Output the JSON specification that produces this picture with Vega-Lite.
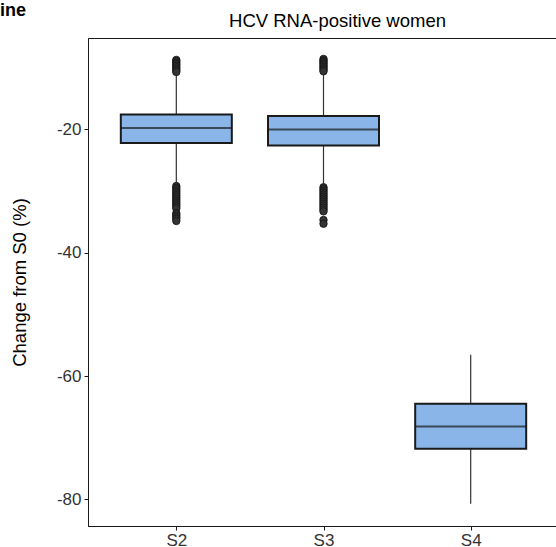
{
  "$schema": "https://vega.github.io/schema/vega-lite/v6.json",
  "width": 471,
  "height": 488,
  "autosize": {"type": "none"},
  "padding": {"left": 88, "top": 38, "right": 0, "bottom": 30},
  "background": "white",
  "title": {"text": "ine", "anchor": "start", "frame": "group", "dx": -88, "dy": 13, "fontSize": 18, "fontWeight": "bold", "color": "black", "font": "Liberation Sans"},
  "config": {
    "font": "Liberation Sans",
    "view": {"stroke": "#1a1a1a", "strokeWidth": 1},
    "axis": {"grid": false, "domainColor": "#1a1a1a", "tickColor": "#1a1a1a", "labelColor": "#333333", "labelFontSize": 17, "titleFontSize": 17, "titleFontWeight": "normal", "titleColor": "black", "tickSize": 4, "labelPadding": 3}
  },
  "datasets": {
    "boxes": [
      {"group": "S2", "lower": -29.1, "q1": -22.22, "median": -19.79, "q3": -17.62, "upper": -10.75},
      {"group": "S3", "lower": -29.1, "q1": -22.64, "median": -20.05, "q3": -17.84, "upper": -10.7},
      {"group": "S4", "lower": -80.7, "q1": -71.78, "median": -68.16, "q3": -64.48, "upper": -56.53}
    ],
    "outliers": [
      {"group": "S2", "value": -8.75}, {"group": "S2", "value": -8.95}, {"group": "S2", "value": -9.2}, {"group": "S2", "value": -9.45}, {"group": "S2", "value": -9.7}, {"group": "S2", "value": -9.95}, {"group": "S2", "value": -10.2}, {"group": "S2", "value": -10.45}, {"group": "S2", "value": -10.7},
      {"group": "S2", "value": -29.2}, {"group": "S2", "value": -29.5}, {"group": "S2", "value": -29.8}, {"group": "S2", "value": -30.1}, {"group": "S2", "value": -30.4}, {"group": "S2", "value": -30.7}, {"group": "S2", "value": -31.0}, {"group": "S2", "value": -31.3}, {"group": "S2", "value": -31.6}, {"group": "S2", "value": -31.9}, {"group": "S2", "value": -32.2}, {"group": "S2", "value": -32.5}, {"group": "S2", "value": -32.8}, {"group": "S2", "value": -33.6}, {"group": "S2", "value": -33.9}, {"group": "S2", "value": -34.2}, {"group": "S2", "value": -34.5}, {"group": "S2", "value": -34.85},
      {"group": "S3", "value": -8.6}, {"group": "S3", "value": -8.85}, {"group": "S3", "value": -9.1}, {"group": "S3", "value": -9.35}, {"group": "S3", "value": -9.6}, {"group": "S3", "value": -9.85}, {"group": "S3", "value": -10.1}, {"group": "S3", "value": -10.35}, {"group": "S3", "value": -10.6},
      {"group": "S3", "value": -29.4}, {"group": "S3", "value": -29.7}, {"group": "S3", "value": -30.0}, {"group": "S3", "value": -30.3}, {"group": "S3", "value": -30.6}, {"group": "S3", "value": -30.9}, {"group": "S3", "value": -31.2}, {"group": "S3", "value": -31.5}, {"group": "S3", "value": -31.8}, {"group": "S3", "value": -32.1}, {"group": "S3", "value": -32.4}, {"group": "S3", "value": -32.7}, {"group": "S3", "value": -33.0}, {"group": "S3", "value": -33.3}, {"group": "S3", "value": -34.7}, {"group": "S3", "value": -35.3}
    ]
  },
  "resolve": {"axis": {"x": "independent", "y": "shared"}},
  "layer": [
    {
      "data": {"name": "boxes"},
      "mark": {"type": "rule", "color": "#333333", "strokeWidth": 1.2},
      "encoding": {
        "x": {"field": "group", "type": "nominal", "scale": {"type": "point", "padding": 0.6}, "axis": {"orient": "bottom", "title": null, "labelAngle": 0, "labelPadding": 2}},
        "y": {"field": "lower", "type": "quantitative", "scale": {"domain": [-84.3, -5.2], "nice": false, "zero": false}, "axis": {"title": "Change from S0 (%)", "titleFontSize": 18.5, "values": [-80, -60, -40, -20], "titlePadding": 27, "labelExpr": "datum.value < 0 ? '-' + abs(datum.value) : '' + datum.value"}},
        "y2": {"field": "upper"}
      }
    },
    {
      "data": {"name": "boxes"},
      "mark": {"type": "bar", "size": 111, "fill": "#89b5e8", "stroke": "#1a1a1a", "strokeWidth": 2},
      "encoding": {
        "x": {"field": "group", "type": "nominal", "scale": {"type": "point", "padding": 0.6}, "axis": null},
        "y": {"field": "q1", "type": "quantitative", "scale": {"domain": [-84.3, -5.2], "nice": false, "zero": false}, "axis": {"title": "Change from S0 (%)", "titleFontSize": 18.5, "values": [-80, -60, -40, -20], "titlePadding": 27, "labelExpr": "datum.value < 0 ? '-' + abs(datum.value) : '' + datum.value"}},
        "y2": {"field": "q3"}
      }
    },
    {
      "data": {"name": "boxes"},
      "mark": {"type": "tick", "size": 111, "thickness": 2, "color": "#1a1a1a", "orient": "horizontal"},
      "encoding": {
        "x": {"field": "group", "type": "nominal", "scale": {"type": "point", "padding": 0.6}, "axis": null},
        "y": {"field": "median", "type": "quantitative", "scale": {"domain": [-84.3, -5.2], "nice": false, "zero": false}, "axis": {"title": "Change from S0 (%)", "titleFontSize": 18.5, "values": [-80, -60, -40, -20], "titlePadding": 27, "labelExpr": "datum.value < 0 ? '-' + abs(datum.value) : '' + datum.value"}}
      }
    },
    {
      "data": {"name": "outliers"},
      "mark": {"type": "point", "filled": true, "size": 56, "color": "#333333", "opacity": 1, "stroke": "#111111", "strokeWidth": 0.8},
      "encoding": {
        "x": {"field": "group", "type": "nominal", "scale": {"type": "point", "padding": 0.6}, "axis": {"orient": "top", "title": "HCV RNA-positive women", "labels": false, "ticks": false, "domain": false, "titleFontSize": 18.5, "titlePadding": 8, "titleX": 249, "titleAlign": "center"}},
        "y": {"field": "value", "type": "quantitative", "scale": {"domain": [-84.3, -5.2], "nice": false, "zero": false}, "axis": {"title": "Change from S0 (%)", "titleFontSize": 18.5, "values": [-80, -60, -40, -20], "titlePadding": 27, "labelExpr": "datum.value < 0 ? '-' + abs(datum.value) : '' + datum.value"}}
      }
    }
  ]
}
